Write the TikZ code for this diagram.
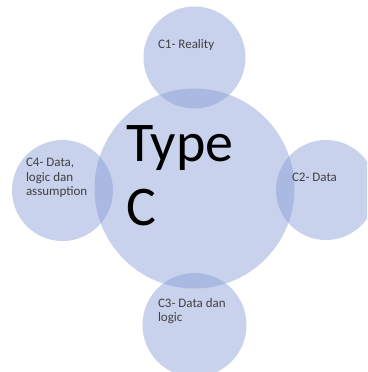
\documentclass[tikz,border=0pt]{standalone}
\usepackage{fontspec}
\setmainfont{Carlito}
\definecolor{bubble}{RGB}{133,155,213}
\definecolor{smalltext}{RGB}{64,64,64}
\begin{document}
\begin{tikzpicture}[x=1pt,y=-1pt,
  bub/.style={circle,fill=bubble,fill opacity=0.45,draw=none,inner sep=0pt},
  lbl/.style={inner sep=0pt,outer sep=0pt,text=smalltext,align=left,
    font=\fontsize{13}{14.3}\selectfont},
  big/.style={inner sep=0pt,outer sep=0pt,text=black,align=left,
    font=\fontsize{56}{64}\selectfont}]
\useasboundingbox (0,0) rectangle (367,372);
\begin{scope}
\clip (0,0) rectangle (367,372);
\node[bub,minimum size=200pt] (main) at (194.5,188.5) {};
\node[bub,minimum size=102pt] (c1) at (194.5,57.5) {};
\node[bub,minimum size=100pt] (c2) at (326,190) {};
\node[bub,minimum size=104pt] (c3) at (194.5,325) {};
\node[bub,minimum size=101pt] (c4) at (62.5,190.5) {};
\end{scope}
\node[big,anchor=north west] (tmain) at (126,126) {Type\\C};
\node[lbl,anchor=base west] (t1) at (158,48) {C1- Reality};
\node[lbl,anchor=base west] (t2) at (292,181) {C2- Data};
\node[lbl,anchor=north west] (t3) at (158,298) {C3- Data dan\\logic};
\node[lbl,anchor=north west] (t4) at (26,158.5) {C4- Data,\\logic dan\\assumption};
\end{tikzpicture}
\end{document}
